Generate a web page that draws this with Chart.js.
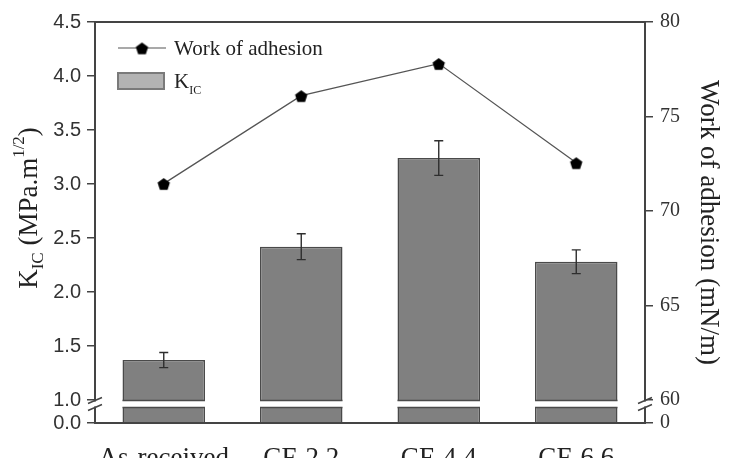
<!DOCTYPE html>
<html>
<head>
<meta charset="utf-8">
<script src="https://cdn.jsdelivr.net/npm/chart.js@4.4.1/dist/chart.umd.min.js"></script>
<style>
  html, body { margin: 0; padding: 0; background: #fff; }
  #wrap { width: 730px; height: 458px; }
</style>
</head>
<body>
<div id="wrap"><canvas id="myChart" width="730" height="458"></canvas></div>
<script>
const categories = ["As-received", "CF-2.2", "CF-4.4", "CF-6.6"];
const kic = [1.37, 2.42, 3.24, 2.28];
const kicErr = [0.07, 0.12, 0.16, 0.11];
const workAdhesion = [71.45, 76.1, 77.8, 72.55];
const leftTicks = [0, 1.0, 1.5, 2.0, 2.5, 3.0, 3.5, 4.0, 4.5];
const rightTicks = [0, 60, 65, 70, 75, 80];

// broken axes: everything below the break is squeezed into a short strip
const leftBreak = 1.0;
const rightBreak = 60;
const leftMax = 4.5;
const rightMax = 80;
const leftFloor = 0.787;
const rightFloor = rightBreak - (leftBreak - leftFloor) * (rightMax - rightBreak) / (leftMax - leftBreak);

const toLeft = (v) => (v < leftBreak ? leftFloor : v);
const toRight = (v) => (v < rightBreak ? rightFloor : v);

const serif = "'Liberation Serif', 'DejaVu Serif', serif";
const sans = "'Liberation Sans', Arial, sans-serif";
const axisColor = "#444";

const makePentagon = (r) => {
  const size = Math.ceil(r * 2) + 2;
  const c = document.createElement("canvas");
  c.width = size;
  c.height = size;
  const g = c.getContext("2d");
  g.beginPath();
  for (let i = 0; i < 5; i++) {
    const a = -Math.PI / 2 + (i * 2 * Math.PI) / 5;
    const px = size / 2 + r * Math.cos(a);
    const py = size / 2 + 1 + r * Math.sin(a);
    if (i === 0) g.moveTo(px, py);
    else g.lineTo(px, py);
  }
  g.closePath();
  g.fillStyle = "#000";
  g.fill();
  return c;
};
const pentagon = makePentagon(6.5);

const extras = {
  id: "extras",
  afterDatasetsDraw(chart) {
    const ctx = chart.ctx;
    const y = chart.scales.y;
    const bandTop = Math.round(y.getPixelForValue(leftBreak)) + 0.5;
    const bandBot = bandTop + 7;
    const bars = chart.getDatasetMeta(1).data;

    ctx.save();
    bars.forEach((bar, i) => {
      const p = bar.getProps(["x", "y", "width"], true);
      const x0 = p.x - p.width / 2;
      const x1 = p.x + p.width / 2;
      ctx.fillStyle = "#fff";
      ctx.fillRect(x0 - 1, bandTop, p.width + 2, bandBot - bandTop);
      ctx.strokeStyle = "#4a4a4a";
      ctx.lineWidth = 1.5;
      ctx.beginPath();
      ctx.moveTo(x0, bandTop);
      ctx.lineTo(x1, bandTop);
      ctx.moveTo(x0, bandBot);
      ctx.lineTo(x1, bandBot);
      ctx.stroke();

      // error bar
      const hi = y.getPixelForValue(kic[i] + kicErr[i]);
      const lo = y.getPixelForValue(kic[i] - kicErr[i]);
      ctx.strokeStyle = "#2e2e2e";
      ctx.lineWidth = 1.4;
      ctx.beginPath();
      ctx.moveTo(p.x, hi);
      ctx.lineTo(p.x, lo);
      ctx.moveTo(p.x - 4.5, hi);
      ctx.lineTo(p.x + 4.5, hi);
      ctx.moveTo(p.x - 4.5, lo);
      ctx.lineTo(p.x + 4.5, lo);
      ctx.stroke();
    });
    ctx.restore();
  },
  afterDraw(chart) {
    const ctx = chart.ctx;
    const area = chart.chartArea;
    const y = chart.scales.y;
    const bandTop = Math.round(y.getPixelForValue(leftBreak)) + 0.5;
    const bandBot = bandTop + 7;

    ctx.save();
    // frame
    ctx.strokeStyle = axisColor;
    ctx.lineWidth = 2;
    ctx.strokeRect(area.left, area.top, area.right - area.left, area.bottom - area.top);

    // axis break marks
    [area.left, area.right].forEach((ax) => {
      ctx.fillStyle = "#fff";
      ctx.fillRect(ax - 2, bandTop + 1, 4, bandBot - bandTop - 2);
      ctx.strokeStyle = axisColor;
      ctx.lineWidth = 1.5;
      ctx.beginPath();
      ctx.moveTo(ax - 7, bandTop + 3);
      ctx.lineTo(ax + 7, bandTop - 3);
      ctx.moveTo(ax - 7, bandBot + 3);
      ctx.lineTo(ax + 7, bandBot - 3);
      ctx.stroke();
    });

    // legend
    ctx.strokeStyle = "#555";
    ctx.lineWidth = 1.2;
    ctx.beginPath();
    ctx.moveTo(118, 48);
    ctx.lineTo(166, 48);
    ctx.stroke();
    ctx.drawImage(pentagon, 142 - pentagon.width / 2, 48 - pentagon.height / 2);
    ctx.fillStyle = "#222";
    ctx.textBaseline = "alphabetic";
    ctx.textAlign = "left";
    ctx.font = "21px " + serif;
    ctx.fillText("Work of adhesion", 174, 55);

    ctx.fillStyle = "#b3b3b3";
    ctx.fillRect(118, 73, 46, 16);
    ctx.strokeStyle = "#7a7a7a";
    ctx.lineWidth = 2;
    ctx.strokeRect(118, 73, 46, 16);
    ctx.fillStyle = "#222";
    ctx.font = "21px " + serif;
    ctx.fillText("K", 174, 88);
    const kw = ctx.measureText("K").width;
    ctx.font = "12px " + serif;
    ctx.fillText("IC", 174 + kw, 94);

    // left axis title with sub/superscripts
    const parts = [
      { t: "K", size: 27, dy: 0 },
      { t: "IC", size: 17, dy: 6 },
      { t: " (MPa.m", size: 27, dy: 0 },
      { t: "1/2", size: 17, dy: -13 },
      { t: ")", size: 27, dy: 0 },
    ];
    let total = 0;
    parts.forEach((p) => {
      ctx.font = p.size + "px " + serif;
      p.w = ctx.measureText(p.t).width;
      total += p.w;
    });
    ctx.translate(37, 208);
    ctx.rotate(-Math.PI / 2);
    let cx = -total / 2;
    parts.forEach((p) => {
      ctx.font = p.size + "px " + serif;
      ctx.fillText(p.t, cx, p.dy);
      cx += p.w;
    });
    ctx.restore();
  },
};

new Chart(document.getElementById("myChart"), {
  data: {
    labels: categories,
    datasets: [
      {
        type: "line",
        label: "Work of adhesion",
        data: workAdhesion,
        yAxisID: "y2",
        borderColor: "#555",
        borderWidth: 1.3,
        pointStyle: pentagon,
        pointRadius: 6,
        tension: 0,
        order: 0,
      },
      {
        type: "bar",
        label: "KIC",
        data: kic,
        yAxisID: "y",
        base: leftFloor,
        backgroundColor: "#808080",
        borderColor: "#4a4a4a",
        borderWidth: 1.5,
        barPercentage: 0.6,
        categoryPercentage: 1,
        order: 1,
      },
    ],
  },
  options: {
    responsive: false,
    animation: false,
    devicePixelRatio: 1,
    layout: { padding: { top: 22, left: 0, right: 0, bottom: 0 } },
    plugins: { legend: { display: false }, tooltip: { enabled: false } },
    scales: {
      x: {
        type: "category",
        grid: { display: false },
        border: { display: false },
        ticks: {
          color: "#222",
          font: { family: serif, size: 27 },
          padding: 12,
          maxRotation: 0,
          autoSkip: false,
        },
        afterFit: (s) => { s.height = 35; },
      },
      y: {
        type: "linear",
        position: "left",
        min: leftFloor,
        max: leftMax,
        grid: { drawOnChartArea: false, drawTicks: true, tickLength: 8, color: axisColor, lineWidth: 1.5 },
        border: { display: false },
        afterBuildTicks: (s) => { s.ticks = leftTicks.map((v) => ({ value: toLeft(v) })); },
        ticks: {
          color: "#333",
          font: { family: sans, size: 20 },
          padding: 6,
          callback: (v) => leftTicks.find((t) => toLeft(t) === v).toFixed(1),
        },
        afterFit: (s) => { s.width = 95; },
      },
      y2: {
        type: "linear",
        position: "right",
        min: rightFloor,
        max: rightMax,
        grid: { drawOnChartArea: false, drawTicks: true, tickLength: 8, color: axisColor, lineWidth: 1.5 },
        border: { display: false },
        afterBuildTicks: (s) => { s.ticks = rightTicks.map((v) => ({ value: toRight(v) })); },
        ticks: {
          color: "#333",
          font: { family: serif, size: 20 },
          padding: 7,
          callback: (v) => String(rightTicks.find((t) => toRight(t) === v)),
        },
        title: {
          display: true,
          text: "Work of adhesion (mN/m)",
          color: "#222",
          font: { family: serif, size: 27 },
          padding: { top: 6, bottom: 0 },
        },
        afterFit: (s) => { s.width = 85; },
      },
    },
  },
  plugins: [extras],
});
</script>
</body>
</html>
